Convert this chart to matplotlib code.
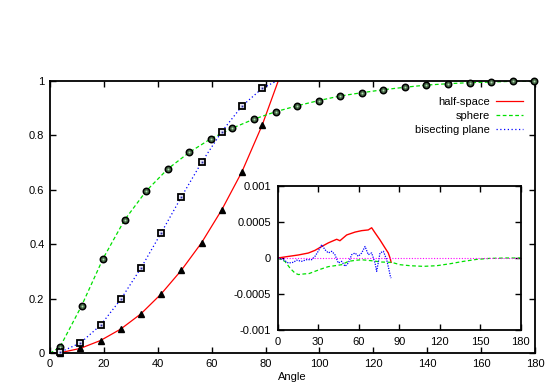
import matplotlib
matplotlib.use('Agg')
import matplotlib.pyplot as plt
from matplotlib.ticker import FuncFormatter, MultipleLocator

plt.rcParams['font.family'] = ['Liberation Sans', 'DejaVu Sans']
plt.rcParams['font.size'] = 8

# ---------------- main panel data ----------------
hs_x = [3.75, 11.25, 18.75, 26.25, 33.75, 41.25, 48.75, 56.25, 63.75, 71.25, 78.75]
hs_y = [0.002, 0.018, 0.047, 0.089, 0.145, 0.218, 0.305, 0.406, 0.527, 0.667, 0.838]
hs_line_x = [0.0] + hs_x + [84.7]
hs_line_y = [0.0] + hs_y + [1.0]

bp_x = [3.75, 11.25, 18.75, 26.25, 33.75, 41.25, 48.75, 56.25, 63.75, 71.25, 78.75]
bp_y = [0.004, 0.038, 0.103, 0.198, 0.313, 0.442, 0.574, 0.701, 0.814, 0.908, 0.973]
bp_line_x = [0.0] + bp_x + [84.1]
bp_line_y = [0.0] + bp_y + [1.0]

sp_x = [3.7, 11.7, 19.7, 27.7, 35.7, 43.7, 51.7, 59.7, 67.7, 75.7, 83.7, 91.7,
        99.7, 107.7, 115.7, 123.7, 131.7, 139.7, 147.7, 155.7, 163.7, 171.7, 179.7]
sp_y = [0.023, 0.174, 0.348, 0.490, 0.596, 0.677, 0.738, 0.788, 0.827, 0.860, 0.887, 0.909,
        0.928, 0.945, 0.957, 0.968, 0.977, 0.985, 0.990, 0.994, 0.996, 0.999, 1.0]
sp_line_x = [0.0] + sp_x
sp_line_y = [0.0] + sp_y

legend_labels = ['half-space', 'sphere', 'bisecting plane']

# ---------------- inset data (errors) ----------------
ihs_x = [0, 7.9, 15.3, 22.7, 27.6, 32.6, 37.5, 43.7, 46.1, 51.1, 57.3, 62.2, 67.1, 69.6,
         72.1, 75.8, 79.5, 81.9, 83.4, 84.0]
ihs_y = [0, 0.22e-4, 0.42e-4, 0.69e-4, 1.06e-4, 1.6e-4, 2.1e-4, 2.6e-4, 2.4e-4, 3.2e-4,
         3.6e-4, 3.8e-4, 3.9e-4, 4.2e-4, 3.5e-4, 2.5e-4, 1.4e-4, 0.7e-4, -0.1e-4, -0.6e-4]

isp_x = [0, 5.4, 9.1, 12.8, 15.3, 20.2, 22.7, 27.6, 32.6, 37.5, 42.4, 47.4, 52.3, 57.3,
         62.2, 69.6, 77.0, 83.2, 84.4, 90.6, 98.0, 107.9, 117.8, 127.6, 137.5, 147.4,
         157.3, 169.6, 180.0]
isp_y = [0, -0.47e-4, -1.4e-4, -2.1e-4, -2.3e-4, -2.2e-4, -2.2e-4, -1.85e-4, -1.5e-4,
         -1.2e-4, -1.07e-4, -0.93e-4, -0.47e-4, -0.33e-4, -0.24e-4, -0.38e-4, -0.56e-4,
         -0.6e-4, -0.6e-4, -0.93e-4, -1.07e-4, -1.16e-4, -1.07e-4, -0.8e-4, -0.47e-4,
         -0.19e-4, -0.05e-4, 0.0, 0.0]

ibp_x = [0.5, 4.2, 7.9, 11.6, 14.0, 17.7, 21.5, 25.2, 27.6, 30.0, 32.6, 35.0, 37.5, 40.0,
         42.4, 44.9, 47.4, 49.9, 52.3, 54.8, 57.3, 59.7, 62.2, 64.7, 67.1, 69.6, 72.1,
         73.3, 75.8, 78.3, 80.7, 82.4, 83.4, 84.0]
ibp_y = [0, -0.23e-4, -0.7e-4, -0.6e-4, -0.3e-4, -0.46e-4, -0.23e-4, -0.23e-4, 0.23e-4,
         0.93e-4, 1.85e-4, 1.16e-4, 0.7e-4, 0.93e-4, 0.46e-4, -0.7e-4, -0.46e-4, -1.16e-4,
         -0.7e-4, 0.46e-4, 0.7e-4, 0.23e-4, 0.7e-4, 1.6e-4, 0.46e-4, 0.7e-4, -0.7e-4,
         -1.85e-4, 0.7e-4, 0.93e-4, -0.23e-4, -1.6e-4, -2.5e-4, -2.8e-4]

zero_x = [0, 180]
zero_y = [0, 0]

RED = '#ff0000'
GREEN = '#00e000'
BLUE = '#0000ff'
MAGENTA = '#ff00ff'

fig = plt.figure(figsize=(5.5, 3.85), dpi=100)

# main axes
ax = fig.add_axes([50 / 550, (385 - 353.3) / 385, 485 / 550, 272.3 / 385])
l1, = ax.plot(hs_line_x, hs_line_y, color=RED, lw=0.9, ls='-', label=legend_labels[0])
l2, = ax.plot(sp_line_x, sp_line_y, color=GREEN, lw=0.9, ls=(0, (3, 2)), label=legend_labels[1])
l3, = ax.plot(bp_line_x, bp_line_y, color=BLUE, lw=0.9, ls=(0, (1, 2)), label=legend_labels[2])

ax.plot(hs_x, hs_y, ls='none', marker='^', ms=4.8, mfc='black', mec='black', zorder=5, clip_on=False)
ax.plot(sp_x, sp_y, ls='none', marker='o', ms=4.6, mfc='#4a6e4a', mec='black', mew=1.1, zorder=5, clip_on=False)
ax.plot(sp_x, sp_y, ls='none', marker='o', ms=1.3, mfc='#b8dcb8', mec='none', zorder=6, clip_on=False)
ax.plot(bp_x, bp_y, ls='none', marker='s', ms=4.2, mfc='#e4e4f4', mec='black', mew=1.3, zorder=5, clip_on=False)
ax.plot(bp_x, bp_y, ls='none', marker='s', ms=1.3, mfc='#2a2aa0', mec='none', zorder=6, clip_on=False)

ax.set_xlim(0, 180)
ax.set_ylim(0, 1)
ax.xaxis.set_major_locator(MultipleLocator(20))
ax.yaxis.set_major_locator(MultipleLocator(0.2))
fmt = FuncFormatter(lambda v, p: '%g' % round(v, 6))
ax.yaxis.set_major_formatter(fmt)
ax.tick_params(direction='in', top=True, right=True, length=4, width=1, pad=4)
for s in ax.spines.values():
    s.set_linewidth(1.3)
ax.set_xlabel('Angle', labelpad=2)

leg = ax.legend(handles=[l1, l2, l3], loc='upper right', bbox_to_anchor=(0.975, 0.94),
                frameon=False, markerfirst=False, handlelength=2.4, handletextpad=0.6,
                labelspacing=0.35, borderpad=0, borderaxespad=0)

# inset axes
ia = fig.add_axes([277.7 / 550, (385 - 330) / 385, 243 / 550, 144 / 385])
ia.plot(ihs_x, ihs_y, color=RED, lw=1.0)
ia.plot(isp_x, isp_y, color=GREEN, lw=0.9, ls=(0, (3, 2)))
ia.plot(ibp_x, ibp_y, color=BLUE, lw=0.9, ls=(0, (1, 1)))
ia.plot(zero_x, zero_y, color=MAGENTA, lw=0.8, ls=(0, (1, 1.5)))
ia.set_xlim(0, 180)
ia.set_ylim(-0.001, 0.001)
ia.xaxis.set_major_locator(MultipleLocator(30))
ia.yaxis.set_major_locator(MultipleLocator(0.0005))
ia.yaxis.set_major_formatter(fmt)
ia.tick_params(direction='in', top=True, right=True, length=4, width=1, pad=5)
for s in ia.spines.values():
    s.set_linewidth(1.3)

fig.savefig('out.png', dpi=100)
